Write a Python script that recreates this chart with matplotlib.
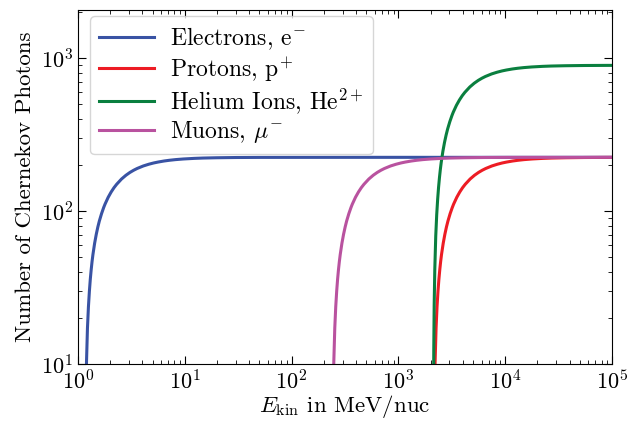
import numpy as np
import matplotlib
matplotlib.use("Agg")
import matplotlib.pyplot as plt

plt.rcParams["font.family"] = ["cmr10", "DejaVu Serif"]
plt.rcParams["mathtext.fontset"] = "cm"
plt.rcParams["axes.unicode_minus"] = False
plt.rcParams["axes.formatter.use_mathtext"] = True

# kinetic energy (MeV/nuc) and photon counts
E_ELECTRON = [1.175, 1.186, 1.201, 1.226, 1.252, 1.278, 1.303, 1.329, 1.354, 1.380,
              1.431, 1.482, 1.533, 1.584, 1.661, 1.737, 1.789, 1.916, 2.044, 2.172,
              2.300, 2.555, 2.811, 3.066, 3.322, 3.577, 4.088, 4.599, 5.110, 5.621,
              6.388, 7.154, 8.176, 9.709, 12.26, 14.82, 19.93, 30.15, 50.59, 510, 1e5]
N_ELECTRON = [3.1, 6.1, 10.3, 17.2, 23.7, 29.9, 35.8, 41.5, 46.9, 52.1,
              61.7, 70.5, 78.7, 86.2, 96.3, 105.4, 111, 123.2, 133.5, 142.4,
              149.9, 162.3, 171.8, 179.3, 185.3, 190.2, 197.6, 202.8, 206.7, 209.6,
              212.9, 215.2, 217.4, 219.5, 221.5, 222.6, 223.6, 224.4, 224.8, 225, 225]

E_MUON = [243.0, 245.1, 248.3, 253.6, 258.9, 264.2, 269.4, 274.7, 280.0, 285.3,
          295.8, 306.4, 317.0, 327.5, 343.4, 359.2, 369.8, 396.2, 422.6, 449.1,
          475.5, 528.3, 581.1, 634.0, 686.8, 739.6, 845.3, 950.9, 1057, 1162,
          1321, 1479, 1691, 2008, 2536, 3064, 4121, 6234, 10460, 1e5]
N_MUON = [3.1, 6.1, 10.3, 17.2, 23.7, 29.9, 35.8, 41.5, 46.9, 52.1,
          61.7, 70.5, 78.7, 86.2, 96.3, 105.4, 111, 123.2, 133.5, 142.4,
          149.9, 162.3, 171.8, 179.3, 185.3, 190.2, 197.6, 202.8, 206.7, 209.6,
          212.9, 215.2, 217.4, 219.5, 221.5, 222.6, 223.6, 224.4, 224.8, 225]

E_PROTON = [2158, 2177, 2205, 2252, 2299, 2346, 2393, 2440, 2486, 2533,
            2627, 2721, 2815, 2909, 3049, 3190, 3284, 3519, 3753, 3988,
            4222, 4691, 5160, 5630, 6099, 6568, 7506, 8444, 9383, 10321,
            11728, 13136, 15012, 17827, 22518, 27210, 36593, 55358, 92889, 1e5]
N_PROTON = [3.1, 6.1, 10.3, 17.2, 23.7, 29.9, 35.8, 41.5, 46.9, 52.1,
            61.7, 70.5, 78.7, 86.2, 96.3, 105.4, 111, 123.2, 133.5, 142.4,
            149.9, 162.3, 171.8, 179.3, 185.3, 190.2, 197.6, 202.8, 206.7, 209.6,
            212.9, 215.2, 217.4, 219.5, 221.5, 222.6, 223.6, 224.4, 224.8, 224.8]

E_HELIUM = [2129, 2134, 2143, 2162, 2190, 2236, 2283, 2330, 2376, 2423, 2469, 2516,
            2609, 2702, 2796, 2889, 3029, 3168, 3261, 3494, 3727, 3960,
            4193, 4659, 5125, 5591, 6057, 6523, 7455, 8387, 9319, 10250,
            11648, 13046, 14910, 17705, 22364, 27024, 36342, 54979, 92253, 1e5]
N_HELIUM = [3.2, 6.2, 12.4, 24.4, 41.2, 68.8, 94.8, 119.6, 143.2, 166, 187.6, 208.4,
            246.8, 282, 314.8, 344.8, 385.2, 421.6, 444, 492.8, 534, 569.6,
            599.6, 649.2, 687.2, 717.2, 741.2, 760.8, 790.4, 811.2, 826.8, 838.4,
            851.6, 860.8, 869.6, 878, 886, 890.4, 894.4, 897.6, 899.2, 899.2]

fig = plt.figure(figsize=(6.41, 4.21), dpi=100)
ax = fig.add_axes([0.1217, 0.1354, 0.8331, 0.8400])

lw = 2.2
ax.plot(E_ELECTRON, N_ELECTRON, color="#3953a4", lw=lw, label=r"Electrons, e$^{-}$")
ax.plot(E_PROTON, N_PROTON, color="#ed1c24", lw=lw, label=r"Protons, p$^{+}$")
ax.plot(E_HELIUM, N_HELIUM, color="#0a7f3f", lw=lw, label=r"Helium Ions, He$^{2+}$")
ax.plot(E_MUON, N_MUON, color="#b9529f", lw=lw, label=r"Muons, $\mu^{-}$")

ax.set_xscale("log")
ax.set_yscale("log")
ax.set_xlim(1, 1e5)
ax.set_ylim(10, 2060)

ax.tick_params(which="both", direction="in", top=True, right=True, labelsize=16)
ax.tick_params(which="major", length=6)
ax.tick_params(which="minor", length=3)

ax.set_xlabel(r"$E_\mathrm{kin}$ in MeV/nuc", fontsize=16.5, labelpad=0)
ax.set_ylabel("Number of Chernekov Photons", fontsize=16.5)

ax.legend(loc="upper left", bbox_to_anchor=(0.0225, 0.984), borderaxespad=0,
          fontsize=17, handlelength=2.3, handletextpad=0.7, labelspacing=0.12)

fig.savefig("out.png", dpi=100)
